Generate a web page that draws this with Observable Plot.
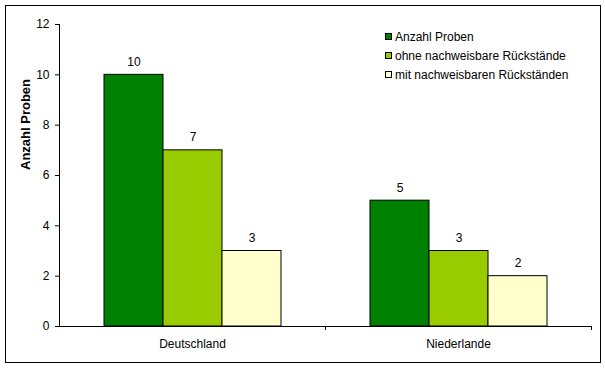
<!DOCTYPE html>
<html><head><meta charset="utf-8">
<script src="https://cdn.jsdelivr.net/npm/d3@7"></script>
<script src="https://cdn.jsdelivr.net/npm/@observablehq/plot@0.6"></script>
<style>
body{margin:0;background:#fff;font-family:"Liberation Sans",Arial,sans-serif;}
#wrap{position:relative;width:605px;height:369px;}
#border{position:absolute;left:5px;top:5px;width:594px;height:356px;border:1px solid #000;pointer-events:none;}
#legend{position:absolute;left:385px;top:27px;font-size:12px;color:#000;}
.row{display:flex;align-items:center;height:19px;white-space:nowrap;}
.sw{width:5px;height:5px;border:1px solid #000;margin-right:3px;}
g[aria-label="y title"] text{letter-spacing:0.3px;}
</style></head><body><div id="wrap"><div id="border"></div><div id="legend"></div></div>
<script>
const countries = ["Deutschland", "Niederlande"];
const seriesNames = ["Anzahl Proben", "ohne nachweisbare Rückstände", "mit nachweisbaren Rückständen"];
const seriesColors = ["#008000", "#99CC00", "#FFFFCC"];
const valuesDeutschland = [10, 7, 3];
const valuesNiederlande = [5, 3, 2];
const yTicks = [0, 2, 4, 6, 8, 10, 12];
const yTitle = "Anzahl Proben";

const valuesByCountry = [valuesDeutschland, valuesNiederlande];
const data = countries.flatMap((c, i) => seriesNames.map((s, j) => ({country: c, series: s, value: valuesByCountry[i][j]})));

function boundaryTicks(index, scales, values, dims) {
  const g = d3.create("svg:g");
  const x = dims.width - dims.marginRight + 0.5;
  const y = dims.height - dims.marginBottom;
  g.append("line").attr("x1", x).attr("x2", x).attr("y1", y).attr("y2", y + 4).attr("stroke", "#000");
  return g.node();
}

const chart = Plot.plot({
  width: 605, height: 369,
  marginLeft: 59, marginRight: 14, marginTop: 24, marginBottom: 43,
  style: {fontFamily: "Liberation Sans, Arial, sans-serif", fontSize: "12px", color: "#000", background: "transparent", overflow: "visible"},
  fx: {domain: countries, padding: 0},
  x: {domain: seriesNames, paddingInner: 0, paddingOuter: 0.75, axis: null},
  y: {domain: [0, 12]},
  color: {domain: seriesNames, range: seriesColors},
  marks: [
    Plot.barY(data, {fx: "country", x: "series", y: "value", fill: "series", stroke: "#000", strokeWidth: 1}),
    Plot.text(data, {fx: "country", x: "series", y: "value", text: d => String(d.value), dy: -9, lineAnchor: "bottom", fill: "#000", fontSize: 12}),
    Plot.ruleY([0], {stroke: "#000"}),
    Plot.frame({anchor: "left", facetAnchor: "left", stroke: "#000"}),
    Plot.axisY(yTicks, {tickSize: 4, tickPadding: 6, label: null, fontSize: 12}),
    Plot.text([yTitle], {text: d => d, frameAnchor: "left", rotate: -90, dx: -34, dy: -5.5, fontWeight: "bold", fontSize: 13, fill: "#000", facetAnchor: "left", ariaLabel: "y title"}),
    Plot.axisFx({anchor: "bottom", tickSize: 0, tickPadding: 13, label: null, fontSize: 12}),
    boundaryTicks
  ]
});
document.getElementById("wrap").prepend(chart);

const legend = d3.select("#legend");
seriesNames.forEach((s, i) => {
  const row = legend.append("div").attr("class", "row");
  row.append("div").attr("class", "sw").style("background", seriesColors[i]);
  row.append("span").text(s);
});
</script>
</body></html>
